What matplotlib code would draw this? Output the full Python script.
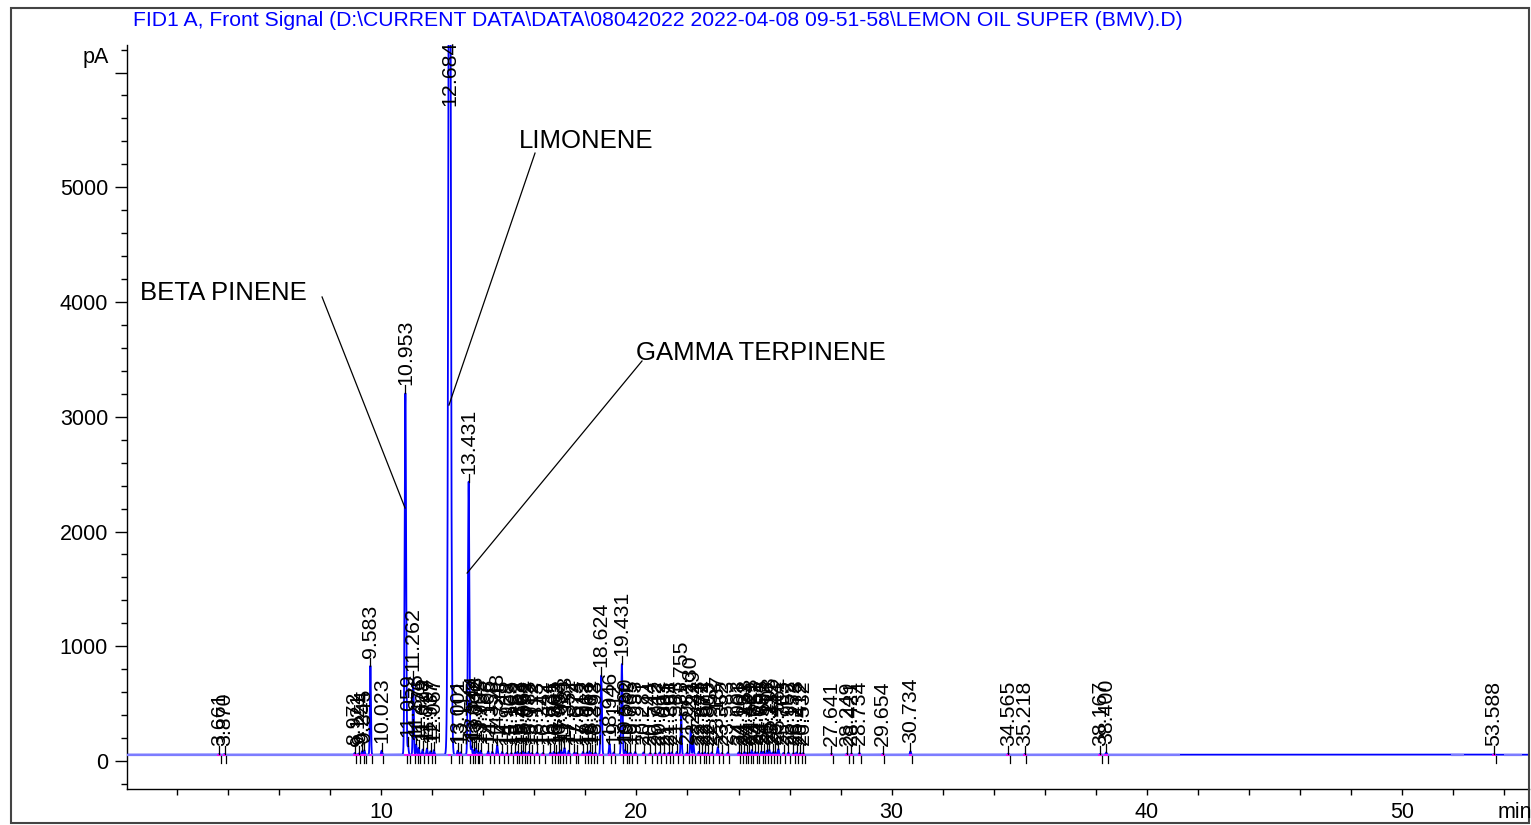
import numpy as np
import matplotlib
matplotlib.use("Agg")
import matplotlib.pyplot as plt
from matplotlib.patches import Rectangle

plt.rcParams['font.family'] = ['Liberation Sans', 'DejaVu Sans']

title = r"FID1 A, Front Signal (D:\CURRENT DATA\DATA\08042022 2022-04-08 09-51-58\LEMON OIL SUPER (BMV).D)"

# retention times (min) and peak heights above baseline (pA)
rts = [3.661, 3.870,
       8.972, 9.121, 9.254, 9.345, 9.583, 10.023,
       10.953, 11.059, 11.262, 11.376, 11.476, 11.628, 11.797, 11.937, 12.067,
       12.684,
       13.001, 13.112, 13.431, 13.544, 13.632, 13.718, 13.792, 13.905, 14.196, 14.358,
       14.548, 14.745, 14.928, 15.103,
       15.262, 15.352, 15.463, 15.561, 15.652, 15.783, 15.912, 16.113, 16.342, 16.631,
       16.765, 16.862, 16.953, 17.051, 17.183, 17.352, 17.574, 17.673, 17.912, 18.063,
       18.171, 18.262, 18.393,
       18.624, 18.946, 19.112, 19.431, 19.560, 19.632, 19.765, 19.953,
       20.281, 20.544, 20.742, 20.912, 21.093, 21.261, 21.384, 21.583, 21.755, 21.982,
       22.130, 22.229, 22.443, 22.571, 22.674, 22.803, 22.952, 23.187, 23.352, 23.583,
       24.003, 24.101, 24.232, 24.323, 24.421, 24.523, 24.652, 24.751, 24.893, 24.982,
       25.113, 25.203, 25.332, 25.441, 25.562, 25.763, 25.952, 26.152, 26.273, 26.412,
       26.532,
       27.641, 28.249, 28.421, 28.734, 29.654, 30.734, 34.565, 35.218, 38.167, 38.400,
       53.588]
heights = [6, 6,
           15, 10, 30, 40, 775, 35,
           3150, 80, 660, 90, 60, 45, 55, 30, 40,
           9500,
           35, 20, 2380, 70, 40, 55, 30, 35, 30, 25,
           85, 25, 15, 15,
           20, 25, 15, 30, 20, 25, 15, 20, 15, 20,
           25, 15, 20, 40, 60, 35, 20, 15, 25, 20,
           30, 15, 20,
           690, 95, 20, 790, 40, 25, 20, 25,
           20, 15, 15, 20, 15, 15, 20, 25, 365, 20,
           235, 110, 25, 15, 20, 15, 20, 65, 15, 20,
           20, 15, 25, 15, 20, 40, 25, 20, 30, 25,
           35, 45, 20, 25, 50, 15, 20, 15, 20, 15,
           15,
           10, 10, 12, 15, 8, 30, 10, 8, 8, 20,
           5]
# peak widths (sigma, min)
widths = [0.02] * len(rts)
wide = {10.953: 0.028, 12.684: 0.045, 13.431: 0.028, 18.624: 0.025, 19.431: 0.025}
for i, r in enumerate(rts):
    if r in wide:
        widths[i] = wide[r]

baseline = 55.0

annot_names = ["BETA PINENE", "LIMONENE", "GAMMA TERPINENE"]
annot_text_xy = [(0.56, 4078), (15.40, 5403), (19.99, 3556)]
annot_line_start = [(7.69, 4044), (16.03, 5298), (20.22, 3486)]
annot_line_end = [(10.94, 2205), (12.66, 3102), (13.37, 1638)]

light_segments = [(0.05, 41.3), (51.9, 52.4), (54.0, 54.7)]

XMIN, XMAX = 0.05, 54.96
YMIN, YMAX = -244, 6240

fig = plt.figure(figsize=(15.31, 8.25), dpi=100)
W, H = 1531, 825
ax = fig.add_axes([127 / W, 1 - 789 / H, (1529 - 127) / W, (789 - 45) / H])

x = np.linspace(XMIN, XMAX, 40000)
y = np.full_like(x, baseline)
for r, h, s in zip(rts, heights, widths):
    y += h * np.exp(-0.5 * ((x - r) / s) ** 2)

ax.plot(x, y, color='#0000ff', lw=1.3, zorder=3, clip_on=True)
for a, b in light_segments:
    ax.plot([a, b], [baseline, baseline], color='#7c7cff', lw=1.6, zorder=4,
            solid_capstyle='butt')
# integration baselines
for r in rts:
    ax.plot([r - 0.07, r + 0.07], [baseline, baseline], color='#ff00ff', lw=1.2,
            zorder=5, solid_capstyle='butt')
# peak end ticks below baseline
for r in rts:
    ax.plot([r + 0.06, r + 0.06], [baseline - 10, -20], color='black', lw=0.9, zorder=5)

# peak labels
for r, h in zip(rts, heights):
    apex = baseline + h
    ytxt = min(apex + 70, 5710)
    if apex < YMAX:
        ax.plot([r, r], [apex, ytxt], color='black', lw=0.9, zorder=5)
    ax.text(r, ytxt, f"{r:.3f}", rotation=90, ha='center', va='bottom',
            fontsize=15.4, color='black', zorder=6)

for name, (tx, ty), (x0, y0), (x1, y1) in zip(annot_names, annot_text_xy,
                                              annot_line_start, annot_line_end):
    ax.text(tx, ty, name, ha='left', va='center', fontsize=18.5, color='black', zorder=7)
    ax.plot([x0, x1], [y0, y1], color='black', lw=0.9, zorder=7)

ax.set_xlim(XMIN, XMAX)
ax.set_ylim(YMIN, YMAX)
ax.set_yticks(np.arange(0, 6001, 1000))
ax.set_yticklabels([str(v) for v in range(0, 6000, 1000)] + [''])
ax.set_yticks(np.arange(-200, 6201, 200), minor=True)
ax.set_xticks(np.arange(10, 51, 10))
ax.set_xticks(np.arange(2, 55, 2), minor=True)
ax.tick_params(axis='y', which='major', direction='out', length=8.6, width=1,
               labelsize=15.5, pad=5)
ax.tick_params(axis='y', which='minor', direction='out', length=4.3, width=1)
ax.tick_params(axis='x', which='both', direction='out', length=4.3, width=1,
               labelsize=15.5, pad=5)
for s in ['top', 'right']:
    ax.spines[s].set_visible(False)
for s in ['left', 'bottom']:
    ax.spines[s].set_linewidth(1.0)
    ax.spines[s].set_color('black')

fig.text(133 / W, 1 - 21 / H, title, ha='left', va='center', fontsize=15.2,
         color='#0000ff')
fig.text(96 / W, 1 - 57 / H, "pA", ha='center', va='center', fontsize=15.5)
fig.text(1515 / W, 1 - 813 / H, "min", ha='center', va='center', fontsize=15.5)

fig.patches.append(Rectangle((11 / W, 1 - 823 / H), (1529 - 11) / W, (823 - 8) / H,
                             transform=fig.transFigure, fill=False,
                             edgecolor='#444444', lw=1.5))

fig.savefig("out.png", dpi=100)
